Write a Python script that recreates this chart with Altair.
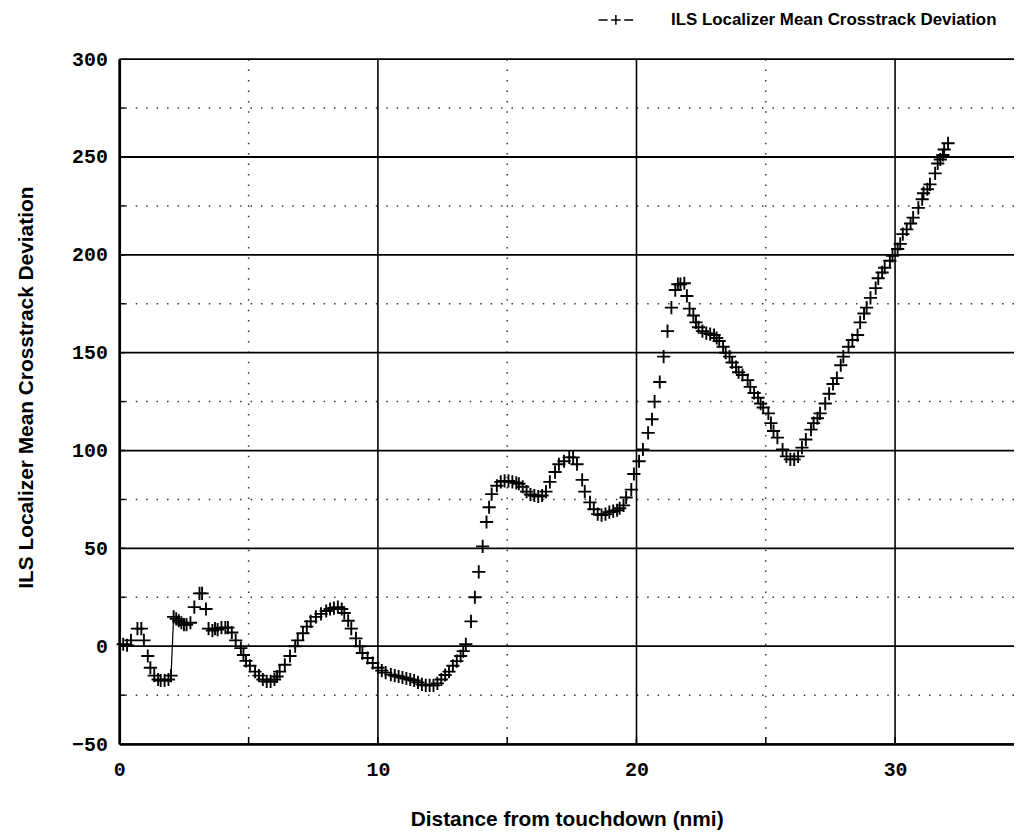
import altair as alt
import pandas as pd

# Measured series: distance from touchdown (nmi) vs mean crosstrack deviation
dist = [0.15, 0.3, 0.45, 0.7, 0.85, 0.95, 1.1, 1.2, 1.35, 1.5, 1.6, 1.75, 1.9, 2.0,
        2.1, 2.2, 2.3, 2.4, 2.5, 2.6, 2.75, 2.9, 3.1, 3.2, 3.35, 3.45, 3.6, 3.7, 3.8,
        3.95, 4.1, 4.2, 4.35, 4.5, 4.7, 4.8, 4.9, 5.05, 5.25, 5.4, 5.55, 5.7, 5.85,
        6.0, 6.1, 6.2, 6.4, 6.6, 6.8, 6.9, 7.1, 7.25, 7.4, 7.6, 7.8, 8.0, 8.15, 8.3,
        8.45, 8.6, 8.7, 8.85, 8.97, 9.15, 9.3, 9.4, 9.6, 9.8, 10.0, 10.15, 10.3, 10.5,
        10.65, 10.8, 10.95, 11.1, 11.25, 11.4, 11.55, 11.7, 11.85, 12.0, 12.15, 12.3,
        12.45, 12.6, 12.75, 12.9, 13.05, 13.2, 13.3, 13.4, 13.6, 13.75, 13.9, 14.05,
        14.2, 14.3, 14.4, 14.6, 14.75, 14.9, 15.05, 15.2, 15.35, 15.45, 15.6, 15.75,
        15.9, 16.05, 16.2, 16.35, 16.5, 16.65, 16.85, 17.0, 17.2, 17.4, 17.55, 17.7,
        17.9, 18.0, 18.2, 18.35, 18.5, 18.65, 18.8, 18.95, 19.1, 19.25, 19.35, 19.5,
        19.6, 19.8, 19.9, 20.1, 20.25, 20.45, 20.6, 20.7, 20.9, 21.05, 21.2, 21.35,
        21.5, 21.6, 21.7, 21.85, 21.95, 22.05, 22.2, 22.3, 22.4, 22.55, 22.7, 22.85,
        23.0, 23.1, 23.2, 23.35, 23.45, 23.6, 23.7, 23.85, 23.95, 24.1, 24.3, 24.4,
        24.55, 24.7, 24.8, 24.9, 25.1, 25.2, 25.3, 25.45, 25.65, 25.8, 25.95, 26.1,
        26.25, 26.4, 26.55, 26.75, 26.85, 27.0, 27.1, 27.3, 27.45, 27.6, 27.75, 27.9,
        28.0, 28.2, 28.35, 28.55, 28.65, 28.8, 28.9, 29.05, 29.25, 29.35, 29.5, 29.6,
        29.8, 29.9, 30.1, 30.2, 30.3, 30.45, 30.6, 30.7, 30.9, 31.05, 31.1, 31.25,
        31.35, 31.55, 31.65, 31.75, 31.85, 31.9, 32.05]
dev = [1, 0.5, 3, 9, 9, 3, -5, -11, -15, -17, -17.5, -17.5, -17, -15,
       15, 14, 13, 12, 11, 11, 12, 20, 27, 27, 19, 9, 8, 9, 8.5,
       9.5, 9.5, 9.5, 7, 3, -1, -4.5, -7.5, -10, -13, -15, -17, -18, -18,
       -17, -15.5, -13, -9.5, -5, 0, 3, 6.6, 10, 12.7, 15, 16.5, 18, 19, 19.5,
       20, 19, 17, 13, 9, 4, 0, -3.5, -6, -8.6, -11, -12.5, -13.5, -14.5,
       -15, -15.5, -16, -16.5, -17, -17.5, -18.5, -19.5, -20, -20, -20, -19,
       -17, -14.7, -13, -10, -7.6, -5, -2.5, 1, 12.7, 25, 38, 51,
       63.5, 71, 77.7, 82, 84, 84.5, 84.5, 84, 83.5, 83, 81.5, 79,
       77.5, 77, 76.5, 77, 79, 84, 89, 93, 94.5, 96.5, 96.5, 93,
       85, 79, 73.5, 70, 67.5, 67, 67.5, 68.5, 69, 69.5, 70.5, 72,
       76, 80, 88, 94.5, 100.5, 109, 116, 125, 135, 148, 161, 173,
       182, 185, 185, 185.5, 179, 172.5, 169, 165.5, 163, 161, 160, 159.5,
       159, 157.5, 156, 153, 150, 148, 145, 142.6, 140, 138.6, 136, 132.5,
       129.4, 127, 124, 122, 119, 114, 110, 106.6, 100.5, 97, 95.5, 95.5,
       97, 101.5, 105.6, 110.7, 114, 116.5, 119, 124, 129, 134, 137, 143.6,
       148, 153, 156.5, 159, 165.5, 170, 173, 178, 183, 188, 191, 193.4,
       197, 199.5, 203, 205.6, 210.6, 213, 216, 219, 224, 228.4, 231.5, 233.5,
       236, 241.6, 246.7, 248.7, 251, 253.8, 257]

series_name = "ILS Localizer Mean Crosstrack Deviation"
x_title = "Distance from touchdown (nmi)"

major_x = [0, 10, 20, 30]
minor_x = [5, 15, 25]
major_y = [-50, 0, 50, 100, 150, 200, 250, 300]
minor_y = [-25, 25, 75, 125, 175, 225, 275]
tick_x = [5, 10, 15, 20, 25, 30]
tick_y = [-25, 0, 25, 50, 75, 100, 125, 150, 175, 200, 225, 250, 275]

X_DOMAIN = [0, 34.6]
Y_DOMAIN = [-50, 300]
W, H = 900, 689

xs = alt.Scale(domain=X_DOMAIN, nice=False, zero=False)
ys = alt.Scale(domain=Y_DOMAIN, nice=False, zero=False)

x_axis = alt.Axis(values=major_x, title=x_title, grid=False, ticks=False,
                  labelPadding=16, titlePadding=29, domainColor="black",
                  domainWidth=2.5, format="d", labelFlush=False)
y_axis = alt.Axis(values=major_y, title=series_name, grid=False, ticks=False,
                  labelPadding=12, titlePadding=35, domainColor="black",
                  domainWidth=2.5, format="d", titleY=330)

df = pd.DataFrame({"dist": dist, "dev": dev, "series": series_name})

minor_x_layer = alt.Chart(pd.DataFrame({"gx": minor_x})).mark_rule(
    color="#333", strokeWidth=1.5, strokeDash=[1.5, 9]
).encode(x=alt.X("gx:Q", scale=xs, axis=x_axis))

minor_y_layer = alt.Chart(pd.DataFrame({"gy": minor_y})).mark_rule(
    color="#333", strokeWidth=1.5, strokeDash=[1.5, 9]
).encode(y=alt.Y("gy:Q", scale=ys, axis=y_axis))

major_x_layer = alt.Chart(pd.DataFrame({"gx": major_x})).mark_rule(
    color="black", strokeWidth=1.6
).encode(x=alt.X("gx:Q", scale=xs, axis=x_axis))

major_y_layer = alt.Chart(pd.DataFrame({"gy": major_y})).mark_rule(
    color="black", strokeWidth=1.8
).encode(y=alt.Y("gy:Q", scale=ys, axis=y_axis))

tick_y_layer = alt.Chart(pd.DataFrame({"ty": tick_y})).mark_rule(
    color="black", strokeWidth=1.5
).encode(y=alt.Y("ty:Q", scale=ys, axis=y_axis), x=alt.value(0), x2=alt.value(6))

tick_x_layer = alt.Chart(pd.DataFrame({"tx": tick_x})).mark_rule(
    color="black", strokeWidth=1.5
).encode(x=alt.X("tx:Q", scale=xs, axis=x_axis), y=alt.value(H), y2=alt.value(H - 7))

jump_layer = alt.Chart(df).transform_filter(
    (alt.datum.dist >= 1.95) & (alt.datum.dist <= 2.15)
).mark_line(color="black", strokeWidth=1.2).encode(
    x=alt.X("dist:Q", scale=xs, axis=x_axis),
    y=alt.Y("dev:Q", scale=ys, axis=y_axis),
)

plus_path = "M-1,0H1M0,-1V1"
legend_path = "M-2.9,0H-1.4M-0.8,0H0.8M0,-0.8V0.8M1.4,0H2.9"

points = alt.Chart(df).mark_point(
    shape=plus_path, filled=False, size=175, strokeWidth=1.9, opacity=1
).encode(
    x=alt.X("dist:Q", scale=xs, axis=x_axis),
    y=alt.Y("dev:Q", scale=ys, axis=y_axis),
    color=alt.Color("series:N", scale=alt.Scale(range=["black"]),
                    legend=alt.Legend(title=None, orient="none", legendX=491, legendY=-48,
                                      symbolType=legend_path, symbolSize=144,
                                      symbolStrokeWidth=1.5, labelOffset=47,
                                      labelFont="Liberation Sans", labelFontWeight="bold",
                                      labelFontSize=17, labelColor="black", padding=0,
                                      labelLimit=500)),
)

chart = alt.layer(
    minor_x_layer, minor_y_layer, major_x_layer, major_y_layer,
    tick_y_layer, tick_x_layer, jump_layer, points
).properties(
    width=W, height=H,
    autosize=alt.AutoSizeParams(type="none"),
    padding={"left": 112, "top": 49, "right": 0, "bottom": 84},
).configure_view(stroke=None).configure_axis(
    labelFont="Liberation Mono", labelFontWeight="bold", labelFontSize=20,
    labelColor="black", titleFont="Liberation Sans", titleFontWeight="bold",
    titleFontSize=21, titleColor="black"
)

chart.save("out.html", embed_options={"renderer": "svg", "actions": False})
